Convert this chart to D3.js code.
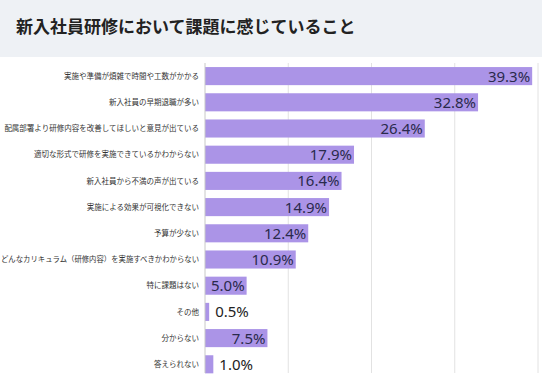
<!DOCTYPE html>
<html><head><meta charset="utf-8">
<script src="https://cdn.jsdelivr.net/npm/d3@7"></script>
<style>
html,body{margin:0;padding:0;background:#fff;}
svg{display:block;}
</style></head>
<body>
<svg id="c" width="542" height="379"></svg>
<script>
const title = "新入社員研修において課題に感じていること";
const categories = [
  "実施や準備が煩雑で時間や工数がかかる",
  "新入社員の早期退職が多い",
  "配属部署より研修内容を改善してほしいと意見が出ている",
  "適切な形式で研修を実施できているかわからない",
  "新入社員から不満の声が出ている",
  "実施による効果が可視化できない",
  "予算が少ない",
  "どんなカリキュラム（研修内容）を実施すべきかわからない",
  "特に課題はない",
  "その他",
  "分からない",
  "答えられない"
];
const values = [39.3, 32.8, 26.4, 17.9, 16.4, 14.9, 12.4, 10.9, 5.0, 0.5, 7.5, 1.0];
const gridTicks = [0, 10, 20, 30, 40];

const svg = d3.select("#c");
svg.append("rect").attr("x",0).attr("y",0).attr("width",542).attr("height",57).attr("fill","#eef1f5");
svg.append("text").attr("x",16).attr("y",33)
  .attr("font-family","'Noto Sans CJK JP','Noto Sans',sans-serif")
  .attr("font-size",17).attr("font-weight","bold").attr("fill","#222")
  .text(title);

const x = d3.scaleLinear().domain([0,40]).range([205,538]);
const y = d3.scaleBand().domain(categories).range([63,377.4]).paddingInner(0.31).paddingOuter(0.155);

// gridlines
svg.append("g").selectAll("line").data(gridTicks.slice(1)).join("line")
  .attr("x1",d=>x(d)).attr("x2",d=>x(d)).attr("y1",63).attr("y2",373)
  .attr("stroke","#e2e2e2").attr("stroke-width",1);

// bars
svg.append("g").selectAll("rect").data(values).join("rect")
  .attr("x",x(0)).attr("y",(d,i)=>y(categories[i]))
  .attr("width",d=>x(d)-x(0)).attr("height",y.bandwidth())
  .attr("fill","#ab94e7");

// axis line
svg.append("line").attr("x1",x(0)).attr("x2",x(0)).attr("y1",63).attr("y2",373)
  .attr("stroke","#c8c8c8").attr("stroke-width",1);

// category labels
svg.append("g").selectAll("text").data(categories).join("text")
  .attr("x",199).attr("y",d=>y(d)+y.bandwidth()/2)
  .attr("dy","0.35em").attr("text-anchor","end")
  .attr("font-family","'Noto Sans CJK JP',sans-serif").attr("font-size",7.5)
  .attr("fill","#333").text(d=>d)
  .each(function(){
    const w = this.getComputedTextLength();
    if (w > 198) d3.select(this).attr("textLength",198).attr("lengthAdjust","spacingAndGlyphs");
  });

// value labels
svg.append("g").selectAll("text").data(values).join("text")
  .each(function(d,i){
    const t = d3.select(this);
    const inside = d >= 4;
    t.attr("y", y(categories[i])+y.bandwidth()/2).attr("dy","0.36em")
     .attr("font-family","'Noto Sans',sans-serif").attr("font-size",15)
     .attr("fill", inside ? "#2a2a4c" : "#222")
     .attr("text-anchor", inside ? "end" : "start")
     .attr("x", inside ? x(d)-2 : x(d)+6)
     .text(d.toFixed(1)+"%");
  });
</script>
</body></html>
